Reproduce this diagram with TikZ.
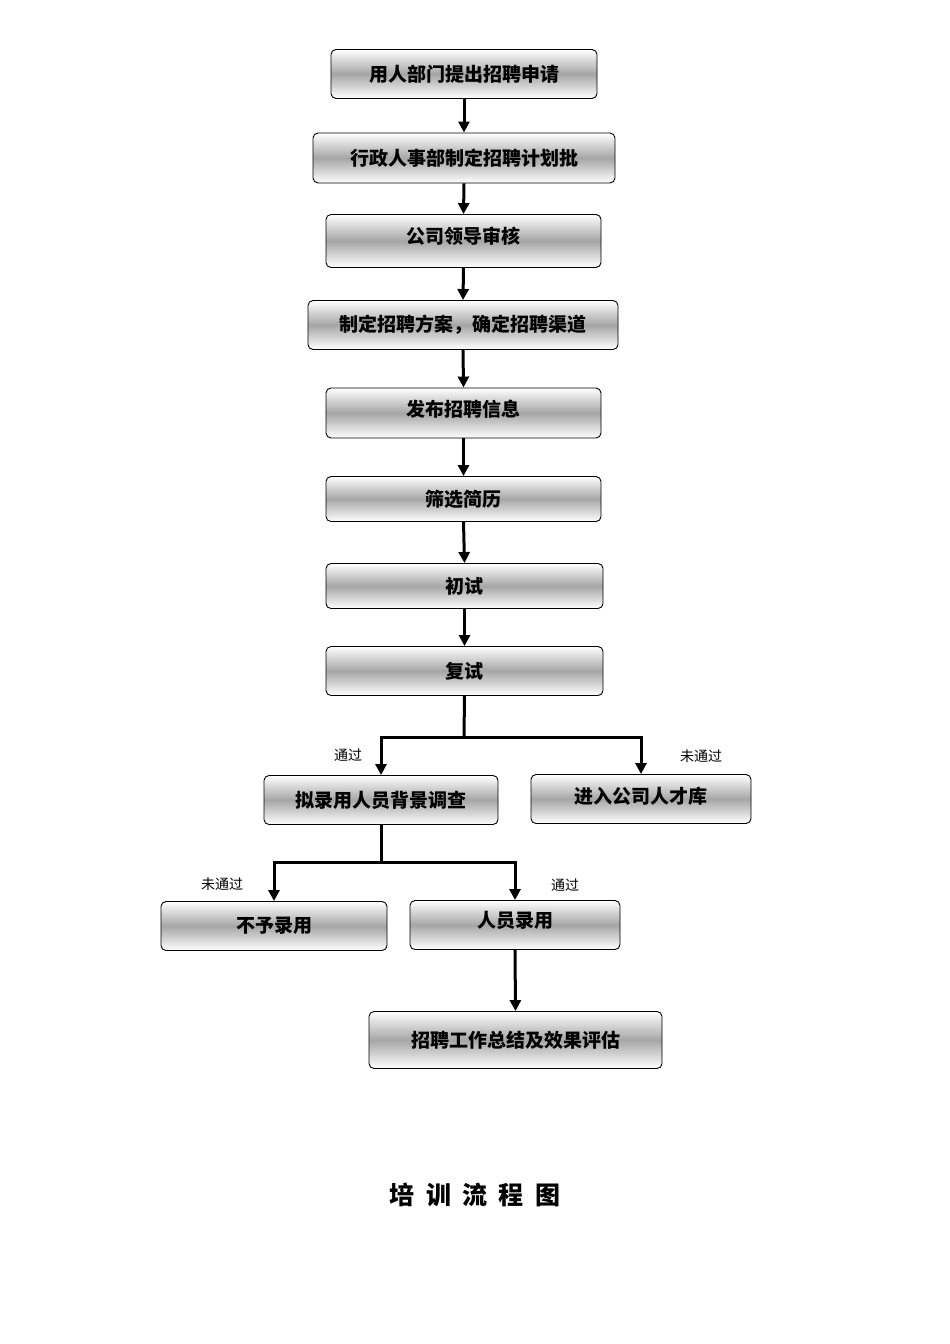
\documentclass[tikz,border=0pt]{standalone}
\usepackage{fontspec}
\setmainfont{Noto Sans CJK SC}
\usetikzlibrary{arrows.meta}
\begin{document}
\begin{tikzpicture}[x=1pt,y=-1pt,
  box/.style={draw=black,line width=0.9pt,rounded corners=5pt,top color=white,bottom color=white,middle color=black!35,inner sep=0pt,font=\bfseries\fontsize{19}{19}\selectfont},
  arr/.style={line width=3pt,-{Triangle[length=11pt,width=11pt]}},
  ln/.style={line width=3pt},
  lab/.style={font=\fontsize{14}{14}\selectfont}]
\useasboundingbox (0,0) rectangle (950,1344);
\node[box,minimum width=266pt,minimum height=49pt] (b1) at (464,74) {用人部门提出招聘申请};
\node[box,minimum width=302pt,minimum height=50pt] (b2) at (464,158) {行政人事部制定招聘计划批};
\node[box,minimum width=275pt,minimum height=53pt,text depth=12pt] (b3) at (463.5,241) {公司领导审核};
\node[box,minimum width=310pt,minimum height=49pt] (b4) at (463,325) {制定招聘方案，确定招聘渠道};
\node[box,minimum width=275pt,minimum height=50pt,text depth=10pt] (b5) at (463.5,413) {发布招聘信息};
\node[box,minimum width=275pt,minimum height=45pt] (b6) at (463.5,499) {筛选简历};
\node[box,minimum width=277pt,minimum height=45pt] (b7) at (464.5,586) {初试};
\node[box,minimum width=277pt,minimum height=49pt] (b8) at (464.5,671) {复试};
\node[box,minimum width=234pt,minimum height=49pt] (b9) at (381,800) {拟录用人员背景调查};
\node[box,minimum width=220pt,minimum height=49pt,text depth=8pt] (b10) at (641,799) {进入公司人才库};
\node[box,minimum width=226pt,minimum height=49pt] (b11) at (274,926) {不予录用};
\node[box,minimum width=210pt,minimum height=49pt,text depth=12pt] (b12) at (515,925) {人员录用};
\node[box,minimum width=293pt,minimum height=57pt] (b13) at (515.5,1040) {招聘工作总结及效果评估};
\foreach \a/\b in {b1/b2,b2/b3,b3/b4,b4/b5,b5/b6,b6/b7,b7/b8}
  \draw[arr] (\a.south) -- (\b.north);
\coordinate (j1) at (464,737);
\draw[ln] (b8.south) -- (j1);
\draw[arr] (j1) -| (b9.north);
\draw[arr] (j1) -| (b10.north);
\coordinate (j2) at (381,862);
\draw[ln] (b9.south) -- (j2);
\draw[arr] (j2) -| (b11.north);
\draw[arr] (j2) -| (b12.north);
\draw[arr] (b12.south) -- (b13.north);
\node[lab] (l1) at (348,755) {通过};
\node[lab] (l2) at (701,756) {未通过};
\node[lab] (l3) at (222,884) {未通过};
\node[lab] (l4) at (565,885) {通过};
\node[font=\bfseries\fontsize{25}{25}\selectfont] (t) at (475,1195) {培\ \ 训\ \ 流\ \ 程\ \ 图};
\end{tikzpicture}
\end{document}
